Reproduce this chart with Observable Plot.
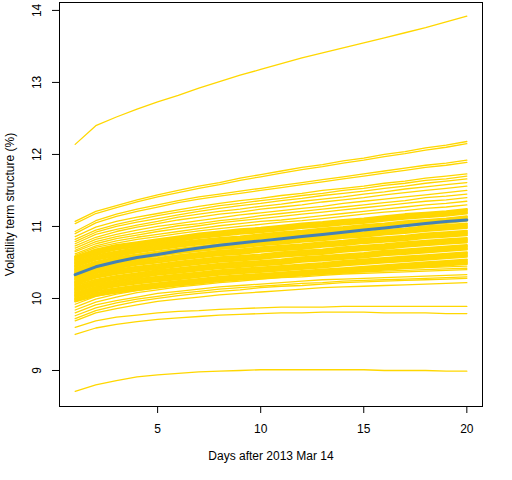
<!DOCTYPE html>
<html>
<head>
<meta charset="utf-8">
<script src="https://cdn.jsdelivr.net/npm/d3@7"></script>
<script src="https://cdn.jsdelivr.net/npm/@observablehq/plot@0.6"></script>
<style>
  html, body { margin: 0; padding: 0; background: white; }
</style>
</head>
<body>
<div id="chart"></div>
<script>
const days = [1,2,3,4,5,6,7,8,9,10,11,12,13,14,15,16,17,18,19,20];
const xTicks = [5, 10, 15, 20];
const yTicks = [9, 10, 11, 12, 13, 14];
const xTitle = "Days after 2013 Mar 14";
const yTitle = "Volatility term structure (%)";

// Highest path and the parallel pair beneath it
const topPaths = [
  [12.14,12.40,12.52,12.63,12.73,12.82,12.92,13.01,13.10,13.18,13.26,13.34,13.41,13.48,13.55,13.62,13.69,13.76,13.84,13.92],
  [11.07,11.21,11.29,11.37,11.44,11.50,11.56,11.61,11.67,11.72,11.77,11.82,11.86,11.91,11.95,12.00,12.04,12.09,12.13,12.18],
  [11.04,11.18,11.26,11.34,11.41,11.47,11.53,11.58,11.64,11.69,11.74,11.79,11.83,11.88,11.92,11.97,12.01,12.06,12.10,12.15]
];

// Sparser paths above the dense band
const upperPaths = [
  [10.93,11.08,11.17,11.24,11.30,11.36,11.41,11.45,11.49,11.53,11.57,11.61,11.65,11.69,11.73,11.77,11.81,11.85,11.88,11.92],
  [10.90,11.05,11.14,11.21,11.27,11.33,11.38,11.42,11.46,11.50,11.54,11.58,11.62,11.66,11.70,11.74,11.78,11.82,11.85,11.89],
  [10.86,10.99,11.07,11.13,11.18,11.23,11.28,11.32,11.36,11.39,11.43,11.46,11.50,11.53,11.56,11.60,11.63,11.67,11.70,11.73],
  [10.82,10.95,11.03,11.09,11.15,11.20,11.24,11.29,11.32,11.36,11.39,11.43,11.46,11.50,11.53,11.57,11.60,11.64,11.66,11.70],
  [10.79,10.92,11.00,11.06,11.11,11.16,11.21,11.25,11.29,11.32,11.36,11.39,11.43,11.46,11.49,11.53,11.56,11.60,11.63,11.66],
  [10.76,10.89,10.96,11.02,11.07,11.13,11.17,11.21,11.24,11.28,11.31,11.35,11.38,11.41,11.45,11.48,11.52,11.55,11.58,11.61],
  [10.73,10.85,10.93,10.99,11.04,11.09,11.13,11.17,11.20,11.24,11.27,11.30,11.34,11.37,11.40,11.44,11.47,11.50,11.53,11.56],
  [10.70,10.82,10.89,10.95,11.00,11.04,11.08,11.12,11.16,11.19,11.22,11.25,11.28,11.32,11.35,11.38,11.41,11.44,11.47,11.50],
  [10.67,10.79,10.86,10.91,10.96,11.01,11.04,11.08,11.11,11.15,11.18,11.21,11.24,11.27,11.30,11.33,11.36,11.40,11.42,11.45],
  [10.65,10.76,10.83,10.88,10.93,10.97,11.01,11.05,11.08,11.11,11.14,11.17,11.20,11.23,11.26,11.29,11.32,11.35,11.37,11.40],
  [10.62,10.73,10.80,10.85,10.89,10.93,10.97,11.01,11.04,11.07,11.09,11.12,11.15,11.18,11.21,11.24,11.27,11.30,11.32,11.35],
  [10.60,10.71,10.77,10.82,10.86,10.90,10.94,10.97,11.00,11.03,11.06,11.08,11.11,11.14,11.17,11.20,11.22,11.25,11.27,11.30]
];

// Dense central band
const bandPaths = [
  [10.58,10.68,10.74,10.78,10.82,10.86,10.90,10.93,10.96,10.98,11.01,11.04,11.06,11.09,11.11,11.14,11.17,11.19,11.21,11.24],
  [10.56,10.66,10.72,10.76,10.80,10.84,10.88,10.91,10.94,10.96,10.99,11.02,11.04,11.07,11.09,11.12,11.15,11.17,11.19,11.22],
  [10.54,10.64,10.70,10.74,10.78,10.82,10.86,10.89,10.92,10.94,10.97,11.00,11.02,11.05,11.07,11.10,11.13,11.15,11.17,11.20],
  [10.52,10.62,10.68,10.72,10.76,10.80,10.84,10.87,10.90,10.92,10.95,10.98,11.00,11.03,11.05,11.08,11.11,11.13,11.15,11.18],
  [10.50,10.60,10.65,10.70,10.74,10.78,10.81,10.84,10.86,10.89,10.92,10.94,10.97,10.99,11.02,11.04,11.07,11.09,11.11,11.14],
  [10.48,10.58,10.63,10.68,10.72,10.76,10.79,10.82,10.84,10.87,10.90,10.92,10.95,10.97,11.00,11.02,11.05,11.07,11.09,11.12],
  [10.46,10.56,10.61,10.66,10.70,10.74,10.77,10.80,10.82,10.85,10.88,10.90,10.93,10.95,10.98,11.00,11.03,11.05,11.07,11.10],
  [10.44,10.54,10.59,10.64,10.68,10.72,10.75,10.78,10.80,10.83,10.86,10.88,10.91,10.93,10.96,10.98,11.01,11.03,11.05,11.08],
  [10.42,10.51,10.57,10.61,10.65,10.69,10.72,10.75,10.77,10.80,10.82,10.85,10.87,10.90,10.92,10.95,10.97,11.00,11.02,11.04],
  [10.40,10.49,10.55,10.59,10.63,10.67,10.70,10.73,10.75,10.78,10.80,10.83,10.85,10.88,10.90,10.93,10.95,10.98,11.00,11.02],
  [10.38,10.47,10.53,10.57,10.61,10.65,10.68,10.71,10.73,10.76,10.78,10.81,10.83,10.86,10.88,10.91,10.93,10.96,10.98,11.00],
  [10.36,10.45,10.51,10.55,10.59,10.63,10.66,10.69,10.71,10.74,10.76,10.79,10.81,10.84,10.86,10.89,10.91,10.94,10.96,10.98],
  [10.34,10.43,10.48,10.53,10.56,10.60,10.63,10.66,10.68,10.71,10.73,10.75,10.78,10.80,10.83,10.85,10.87,10.90,10.92,10.94],
  [10.32,10.41,10.46,10.51,10.54,10.58,10.61,10.64,10.66,10.69,10.71,10.73,10.76,10.78,10.81,10.83,10.85,10.88,10.90,10.92],
  [10.30,10.39,10.44,10.49,10.52,10.56,10.59,10.62,10.64,10.67,10.69,10.71,10.74,10.76,10.79,10.81,10.83,10.86,10.88,10.90],
  [10.28,10.37,10.42,10.47,10.50,10.54,10.57,10.60,10.62,10.65,10.67,10.69,10.72,10.74,10.77,10.79,10.81,10.84,10.86,10.88],
  [10.26,10.35,10.40,10.44,10.47,10.51,10.54,10.57,10.59,10.61,10.64,10.66,10.68,10.71,10.73,10.75,10.78,10.80,10.82,10.84],
  [10.24,10.33,10.38,10.42,10.45,10.49,10.52,10.55,10.57,10.59,10.62,10.64,10.66,10.69,10.71,10.73,10.76,10.78,10.80,10.82],
  [10.22,10.31,10.36,10.40,10.43,10.47,10.50,10.53,10.55,10.57,10.60,10.62,10.64,10.67,10.69,10.71,10.74,10.76,10.78,10.80],
  [10.20,10.29,10.34,10.38,10.41,10.45,10.48,10.51,10.53,10.55,10.58,10.60,10.62,10.65,10.67,10.69,10.72,10.74,10.76,10.78],
  [10.18,10.26,10.31,10.35,10.39,10.42,10.45,10.48,10.50,10.52,10.54,10.57,10.59,10.61,10.63,10.66,10.68,10.70,10.72,10.74],
  [10.16,10.24,10.29,10.33,10.37,10.40,10.43,10.46,10.48,10.50,10.52,10.55,10.57,10.59,10.61,10.64,10.66,10.68,10.70,10.72],
  [10.14,10.22,10.27,10.31,10.35,10.38,10.41,10.44,10.46,10.48,10.50,10.53,10.55,10.57,10.59,10.62,10.64,10.66,10.68,10.70],
  [10.12,10.20,10.25,10.29,10.33,10.36,10.39,10.42,10.44,10.46,10.48,10.51,10.53,10.55,10.57,10.60,10.62,10.64,10.66,10.68],
  [10.10,10.18,10.23,10.27,10.30,10.33,10.36,10.39,10.41,10.43,10.45,10.47,10.49,10.52,10.54,10.56,10.58,10.60,10.62,10.64],
  [10.08,10.16,10.21,10.25,10.28,10.31,10.34,10.37,10.39,10.41,10.43,10.45,10.47,10.50,10.52,10.54,10.56,10.58,10.60,10.62],
  [10.06,10.14,10.19,10.23,10.26,10.29,10.32,10.35,10.37,10.39,10.41,10.43,10.45,10.48,10.50,10.52,10.54,10.56,10.58,10.60],
  [10.04,10.12,10.17,10.21,10.24,10.27,10.30,10.33,10.35,10.37,10.39,10.41,10.43,10.46,10.48,10.50,10.52,10.54,10.56,10.58],
  [10.02,10.10,10.14,10.18,10.21,10.24,10.27,10.30,10.32,10.34,10.36,10.38,10.40,10.42,10.44,10.46,10.48,10.50,10.52,10.54],
  [10.00,10.08,10.12,10.16,10.19,10.22,10.25,10.28,10.30,10.32,10.34,10.36,10.38,10.40,10.42,10.44,10.46,10.48,10.50,10.52],
  [9.98,10.06,10.10,10.14,10.17,10.20,10.23,10.26,10.28,10.30,10.32,10.34,10.36,10.38,10.40,10.42,10.44,10.46,10.48,10.50],
  [9.96,10.04,10.08,10.12,10.15,10.18,10.21,10.24,10.26,10.28,10.30,10.32,10.34,10.36,10.38,10.40,10.42,10.44,10.46,10.48]
];

// Paths below the dense band
const lowerPaths = [
  [9.92,10.03,10.09,10.14,10.19,10.22,10.25,10.28,10.30,10.32,10.34,10.36,10.38,10.39,10.40,10.41,10.42,10.43,10.44,10.45],
  [9.88,9.99,10.06,10.11,10.15,10.19,10.22,10.25,10.27,10.29,10.31,10.33,10.34,10.36,10.37,10.38,10.39,10.40,10.41,10.42],
  [9.84,9.95,10.02,10.08,10.12,10.16,10.19,10.22,10.24,10.27,10.29,10.30,10.32,10.34,10.35,10.36,10.37,10.38,10.39,10.40],
  [9.80,9.91,9.97,10.02,10.07,10.10,10.13,10.16,10.18,10.20,10.22,10.24,10.26,10.27,10.28,10.29,10.30,10.31,10.32,10.33],
  [9.76,9.87,9.94,9.99,10.03,10.07,10.10,10.13,10.15,10.17,10.19,10.21,10.22,10.24,10.25,10.26,10.27,10.28,10.29,10.30],
  [9.72,9.83,9.90,9.96,10.00,10.04,10.07,10.10,10.12,10.15,10.17,10.18,10.20,10.22,10.23,10.24,10.25,10.26,10.27,10.28],
  [9.69,9.80,9.86,9.91,9.96,9.99,10.02,10.05,10.07,10.09,10.11,10.13,10.15,10.16,10.17,10.18,10.19,10.20,10.21,10.22],
  [9.60,9.69,9.74,9.77,9.80,9.82,9.83,9.85,9.86,9.87,9.88,9.88,9.88,9.89,9.89,9.89,9.89,9.89,9.89,9.89],
  [9.50,9.59,9.64,9.68,9.71,9.73,9.75,9.77,9.78,9.79,9.80,9.80,9.81,9.81,9.81,9.80,9.80,9.80,9.79,9.79],
  [8.71,8.80,8.86,8.91,8.94,8.96,8.98,8.99,9.00,9.01,9.01,9.01,9.01,9.01,9.01,9.00,9.00,9.00,8.99,8.99]
];

// Average term structure (blue)
const meanPath = [10.33,10.44,10.51,10.57,10.61,10.66,10.70,10.74,10.77,10.80,10.83,10.86,10.89,10.92,10.95,10.98,11.01,11.04,11.07,11.09];

const toRows = (paths, tag) => paths.flatMap((p, i) => p.map((v, j) => ({id: tag + i, day: days[j], v})));
const outerRows = [...toRows(topPaths, "t"), ...toRows(upperPaths, "u"), ...toRows(lowerPaths, "l")];
const bandRows = toRows(bandPaths, "b");
const meanRows = meanPath.map((v, j) => ({day: days[j], v}));

const chart = Plot.plot({
  width: 512,
  height: 480,
  marginLeft: 59,
  marginRight: 30,
  marginTop: 2,
  marginBottom: 74,
  style: {fontFamily: "'Liberation Sans', Arial, Helvetica, sans-serif", fontSize: "12px", background: "white", color: "black"},
  x: {domain: [0.24, 20.76]},
  y: {domain: [8.5, 14.11]},
  marks: [
    Plot.line(bandRows, {x: "day", y: "v", z: "id", stroke: "#FFD700", strokeWidth: 2.2}),
    Plot.line(outerRows, {x: "day", y: "v", z: "id", stroke: "#FFD700", strokeWidth: 1.3}),
    Plot.line(meanRows, {x: "day", y: "v", stroke: "#4682B4", strokeWidth: 3}),
    Plot.frame({stroke: "black", strokeWidth: 1}),
    Plot.axisX({ticks: xTicks, tickSize: 7, tickPadding: 11, fontSize: 12, label: null, stroke: "black"}),
    Plot.axisY({ticks: yTicks, tickSize: 7, tickFormat: () => "", label: null, stroke: "black"}),
    Plot.text(yTicks, {y: d => d, text: d => String(d), frameAnchor: "left", dx: -22, rotate: -90, textAnchor: "middle", lineAnchor: "middle", fontSize: 12, fill: "black"}),
    Plot.text([xTitle], {frameAnchor: "bottom", dy: 50, lineAnchor: "middle", fontSize: 12, fill: "black"}),
    Plot.text([yTitle], {frameAnchor: "left", dx: -49, rotate: -90, textAnchor: "middle", lineAnchor: "middle", fontSize: 12, fill: "black"})
  ]
});
document.getElementById("chart").appendChild(chart);
</script>
</body>
</html>
